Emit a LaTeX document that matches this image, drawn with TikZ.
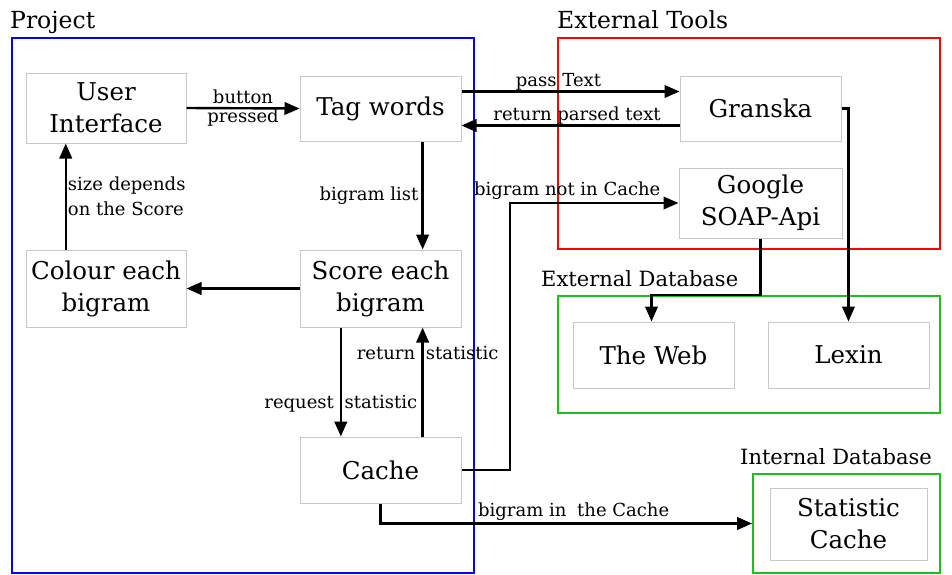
\documentclass[tikz,border=0pt]{standalone}
\usepackage{fontspec}
\setmainfont{DejaVu Serif}
\usetikzlibrary{arrows.meta,calc}
\definecolor{boxgray}{HTML}{C8C8C8}
\definecolor{dbgreen}{HTML}{1DBF1D}
\tikzset{
  box/.style={draw=boxgray, line width=1pt, align=center, inner sep=0pt,
    font=\fontsize{24.5}{32}\selectfont},
  container/.style={draw=#1, line width=2pt, inner sep=0pt},
  title/.style={anchor=base west, inner sep=0pt, font=\fontsize{23.5}{28}\selectfont},
  dbtitle/.style={title, font=\fontsize{21}{26}\selectfont},
  lbl/.style={inner sep=1pt, align=center, font=\fontsize{18}{22}\selectfont},
  arr/.style={line width=2.4pt, -{Triangle[length=15pt,width=12.5pt]}},
}
\begin{document}
\begin{tikzpicture}[x=1pt,y=-1pt]
\useasboundingbox (0,0) rectangle (952,574);
% containers
\node[container=blue, minimum width=462pt, minimum height=535pt] (proj) at (243,305.5) {};
\node[container=red, minimum width=382pt, minimum height=211pt] (exttools) at (749,143.5) {};
\node[container=dbgreen, minimum width=382pt, minimum height=117pt] (extdb) at (749,354.5) {};
\node[container=dbgreen, minimum width=187pt, minimum height=99pt] (intdb) at (846.5,523.5) {};
% titles
\node[title] (tproj) at (10,28) {Project};
\node[title] (ttools) at (557,28) {External Tools};
\node[dbtitle] (textdb) at (541,286) {External Database};
\node[dbtitle] (tintdb) at (740,464) {Internal Database};
% nodes
\node[box, minimum width=160pt, minimum height=70pt] (ui) at (106,108) {User\\Interface};
\node[box, minimum width=161pt, minimum height=65pt] (tag) at (380.5,108.5) {Tag words};
\node[box, minimum width=160pt, minimum height=77pt] (colour) at (106,288.5) {Colour each\\bigram};
\node[box, minimum width=161pt, minimum height=77pt] (score) at (380.5,288.5) {Score each\\bigram};
\node[box, minimum width=161pt, minimum height=66pt] (cache) at (380.5,470) {Cache};
\node[box, minimum width=161pt, minimum height=65pt] (granska) at (760.5,108.5) {Granska};
\node[box, minimum width=163pt, minimum height=70pt] (google) at (760.5,203) {Google\\SOAP-Api};
\node[box, minimum width=161pt, minimum height=66pt] (web) at (653.5,355) {The Web};
\node[box, minimum width=161pt, minimum height=66pt] (lexin) at (848.5,355) {Lexin};
\node[box, minimum width=157pt, minimum height=72pt] (statcache) at (848.5,524) {Statistic\\Cache};
% connectors
\draw[arr] (ui.east) -- (tag.west)
  node[lbl, midway, font=\fontsize{18}{19}\selectfont] {button\\pressed};
\draw[arr] ([yshift=-16pt]tag.north east) -- ([yshift=-16pt]tag.north east -| granska.west)
  node[lbl, above, pos=0.445, inner sep=0pt] {pass Text};
\draw[arr] ([yshift=16pt]granska.south west) -- ([yshift=16pt]granska.south west -| tag.east)
  node[lbl, above, pos=0.47, inner sep=0pt] {return parsed text};
\draw[arr] ($(tag.south west)!0.76!(tag.south east)$) -- ($(score.north west)!0.76!(score.north east)$)
  node[lbl, left, midway, xshift=-2pt] {bigram list};
\draw[arr] (score.west) -- (colour.east);
\draw[arr] ($(colour.north west)!0.25!(colour.north east)$) -- ($(ui.south west)!0.25!(ui.south east)$)
  node[lbl, right, midway, align=left, font=\fontsize{18}{25}\selectfont] {size depends\\on the Score};
\draw[arr] ($(score.south west)!0.255!(score.south east)$) -- ($(cache.north west)!0.255!(cache.north east)$)
  node[lbl, pos=0.7] {request\hspace{0.6em}statistic};
\draw[arr] ($(cache.north west)!0.76!(cache.north east)$) -- ($(score.south west)!0.76!(score.south east)$)
  node[lbl, pos=0.77, xshift=5pt] {return\hspace{0.6em}statistic};
\coordinate (c1) at (510,470);
\draw[arr] (cache.east) -- (c1) |- (google.west)
  node[lbl, above, pos=0.67, inner sep=0pt, yshift=2pt] {bigram not in Cache};
\draw[arr] (cache.south) |- (intdb.west)
  node[lbl, above, pos=0.76, inner sep=0pt, yshift=2pt] {bigram in\hspace{0.6em}the Cache};
\draw[arr] (granska.east) -| (lexin.north);
\coordinate (g1) at (google.south |- extdb.north);
\draw[arr] (google.south) -- (g1) -| ([xshift=-2pt]web.north);
\end{tikzpicture}
\end{document}
